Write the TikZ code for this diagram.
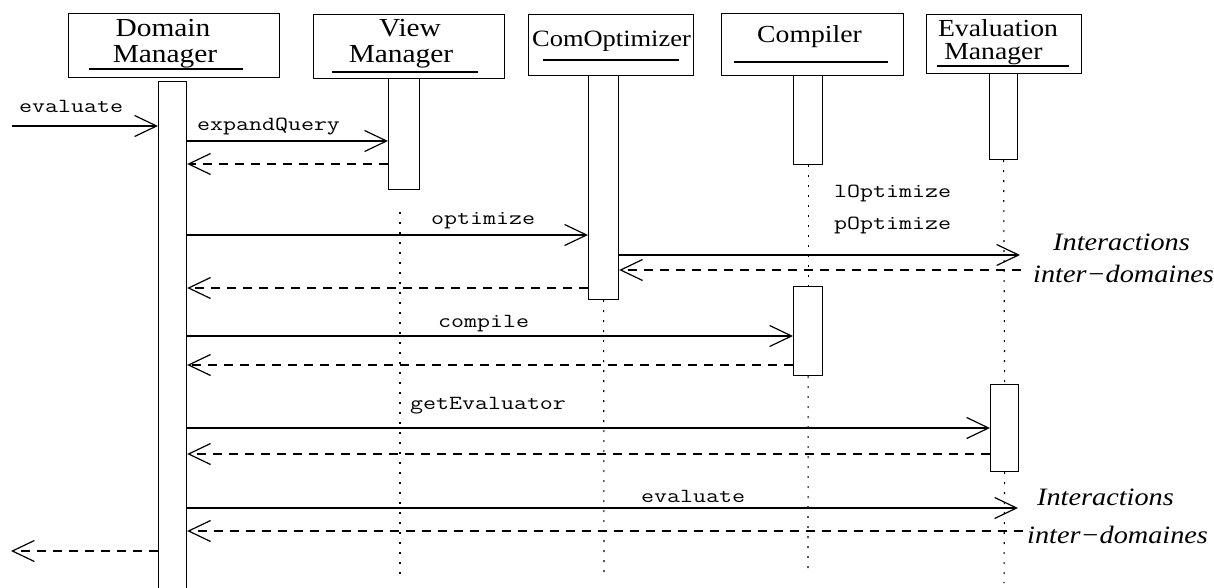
\documentclass[tikz,border=0pt]{standalone}
\usepackage{fontspec}
\setmainfont{Liberation Serif}
\newfontfamily\hdrfont{Liberation Serif}[FakeStretch=1.13]
\newfontfamily\msgfont{Latin Modern Mono}[FakeStretch=1.26]
\usetikzlibrary{arrows.meta}
\tikzset{
  box/.style={draw, line width=1.3pt, inner sep=0pt, anchor=north west},
  bar/.style={draw, fill=white, line width=1.2pt, inner sep=0pt, anchor=north west},
  hdrA/.style={inner sep=0pt, anchor=base, font=\hdrfont\fontsize{26}{26}\selectfont},
  hdrB/.style={inner sep=0pt, anchor=base, font=\hdrfont\fontsize{24.5}{24.5}\selectfont},
  hdrC/.style={inner sep=0pt, anchor=base, font=\hdrfont\fontsize{23.4}{23.4}\selectfont},
  lbl/.style={inner sep=0pt, anchor=base west, font=\msgfont\fontsize{20}{20}\selectfont},
  ital/.style={inner sep=0pt, anchor=base west, font=\hdrfont\itshape\fontsize{25}{25}\selectfont},
  msg/.style={line width=1.2pt, -{Straight Barb[length=22pt, width=21pt, line width=1.2pt]}},
  ret/.style={msg, dash pattern=on 9pt off 7pt},
  life/.style={line width=1.1pt, dash pattern=on 2pt off 8pt},
  uline/.style={line width=1.3pt}
}
\begin{document}
\begin{tikzpicture}[x=1pt, y=-1pt]
\fill[white] (0,0) rectangle (1214,588);
\useasboundingbox (0,0) rectangle (1214,588);

% header boxes
\node[box, minimum width=211pt, minimum height=64pt] (dmbox) at (68,13) {};
\node[box, minimum width=191pt, minimum height=64pt] (vmbox) at (313,14) {};
\node[box, minimum width=165pt, minimum height=61pt] (cobox) at (528,14) {};
\node[box, minimum width=182pt, minimum height=62pt] (cpbox) at (721,13) {};
\node[box, minimum width=155pt, minimum height=59pt] (evbox) at (926,14) {};

% header texts
\node[hdrA] (dmt1) at (163,37) {Domain};
\node[hdrA] (dmt2) at (165,63) {Manager};
\node[hdrA] (vmt1) at (410,37) {View};
\node[hdrA] (vmt2) at (401,63) {Manager};
\node[hdrC] (cot1) at (611.5,47) {ComOptimizer};
\node[hdrB] (cpt1) at (809.5,43) {Compiler};
\node[hdrB] (evt1) at (998,37) {Evaluation};
\node[hdrB] (evt2) at (993.5,60) {Manager};

% underlines
\draw[uline] (89,69) -- (243,69);
\draw[uline] (332,72) -- (478,72);
\draw[uline] (543,60) -- (679,60);
\draw[uline] (734,62) -- (888,62);
\draw[uline] (937,66) -- (1069,66);

% activation bars
\node[bar, minimum width=28pt, minimum height=520pt] (dmbar) at (158,81) {};
\node[bar, minimum width=31pt, minimum height=111pt] (vmbar) at (388,78) {};
\node[bar, minimum width=30pt, minimum height=224pt] (cobar) at (588,75) {};
\node[bar, minimum width=29pt, minimum height=89pt] (cpbarA) at (793,75) {};
\node[bar, minimum width=29pt, minimum height=89pt] (cpbarB) at (793,286) {};
\node[bar, minimum width=28pt, minimum height=86pt] (evbarA) at (989,73) {};
\node[bar, minimum width=28pt, minimum height=87pt] (evbarB) at (990,384) {};

% lifelines
\draw[life] (400,212) -- (400,577);
\draw[life] (cobar.south) -- (604,573);
\draw[life] (cpbarA.south) -- (cpbarB.north);
\draw[life] (cpbarB.south) -- (808,573);
\draw[life] (evbarA.south) -- (evbarB.north);
\draw[life] (evbarB.south) -- (1004,583);

% row coordinates
\coordinate (inSrc) at (12,126);
\coordinate (y2) at (0,141);
\coordinate (y3) at (0,164);
\coordinate (y4) at (0,235);
\coordinate (ia1) at (1020,255);
\coordinate (ia2) at (1021,270);
\coordinate (y7) at (0,288);
\coordinate (y8) at (0,336);
\coordinate (y9) at (0,365);
\coordinate (y10) at (0,428);
\coordinate (y11) at (0,454);
\coordinate (ia3) at (1018,508);
\coordinate (ia4) at (1023,531);
\coordinate (outDst) at (11,551);

% messages
\draw[msg] (inSrc) -- (dmbar.west |- inSrc);
\draw[msg] (dmbar.east |- y2) -- (vmbar.west |- y2);
\draw[ret] (vmbar.west |- y3) -- (dmbar.east |- y3);
\draw[msg] (dmbar.east |- y4) -- (cobar.west |- y4);
\draw[msg] (cobar.east |- ia1) -- (ia1);
\draw[ret] (ia2) -- (cobar.east |- ia2);
\draw[ret] (cobar.west |- y7) -- (dmbar.east |- y7);
\draw[msg] (dmbar.east |- y8) -- (cpbarB.west |- y8);
\draw[ret] (cpbarB.west |- y9) -- (dmbar.east |- y9);
\draw[msg] (dmbar.east |- y10) -- (evbarB.west |- y10);
\draw[ret] (evbarB.west |- y11) -- (dmbar.east |- y11);
\draw[msg] (dmbar.east |- ia3) -- (ia3);
\draw[ret] (ia4) -- (dmbar.east |- ia4);
\draw[ret] (dmbar.west |- outDst) -- (outDst);

% message labels
\node[lbl] (l1) at (19,113) {evaluate};
\node[lbl] (l2) at (197,131) {expandQuery};
\node[lbl] (l3) at (431,224) {optimize};
\node[lbl] (l4) at (834,197) {lOptimize};
\node[lbl] (l5) at (834,229) {pOptimize};
\node[lbl] (l6) at (438,327) {compile};
\node[lbl] (l7) at (410,409) {getEvaluator};
\node[lbl] (l8) at (641,502) {evaluate};

% italic notes
\node[ital] (n1) at (1053,250) {Interactions};
\node[ital] (n2) at (1033,282) {inter−domaines};
\node[ital] (n3) at (1037,505) {Interactions};
\node[ital] (n4) at (1027,543) {inter−domaines};
\end{tikzpicture}
\end{document}
